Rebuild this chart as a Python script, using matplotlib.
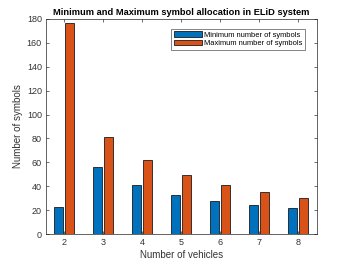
import numpy as np
import matplotlib
matplotlib.use('Agg')
import matplotlib.pyplot as plt

vehicles = [2, 3, 4, 5, 6, 7, 8]
min_symbols = [23, 56, 41, 33, 28, 24, 22]
max_symbols = [177, 81, 62, 49, 41, 35, 30]

plt.rcParams['font.family'] = ['Liberation Sans', 'DejaVu Sans']

fig = plt.figure(figsize=(3.5, 2.63), dpi=100)
ax = fig.add_axes([46 / 350, 1 - 234 / 263, (317 - 46) / 350, (234 - 19) / 263])

x = np.array(vehicles)
w = 0.235
ax.bar(x - 0.14, min_symbols, w, color='#0072BD', edgecolor='#1a1a1a', linewidth=0.6,
       label='Minimum number of symbols')
ax.bar(x + 0.14, max_symbols, w, color='#D95319', edgecolor='#1a1a1a', linewidth=0.6,
       label='Maximum number of symbols')

ax.set_xlim(1.53, 8.49)
ax.set_ylim(0, 180)
ax.set_xticks(vehicles)
ax.set_yticks(range(0, 181, 20))
ax.tick_params(direction='in', length=2.5, width=0.5, labelsize=6.5, colors='#333333',
               top=True, right=True, pad=3)
for s in ax.spines.values():
    s.set_linewidth(0.5)
    s.set_color('#262626')

ax.set_xlabel('Number of vehicles', fontsize=7, color='#333333', labelpad=2)
ax.set_ylabel('Number of symbols', fontsize=7, color='#333333', labelpad=3)
ax.set_title('Minimum and Maximum symbol allocation in ELiD system', fontsize=6.7,
             fontweight='bold', pad=3)

leg = ax.legend(loc='upper right', fontsize=5.4, frameon=True, fancybox=False,
                bbox_to_anchor=(0.955, 0.955), borderpad=0.35, handlelength=3.7,
                handletextpad=0.3, labelspacing=0.2, borderaxespad=0)
leg.get_frame().set_edgecolor('#262626')
leg.get_frame().set_linewidth(0.5)

fig.savefig('out.png', dpi=100)
